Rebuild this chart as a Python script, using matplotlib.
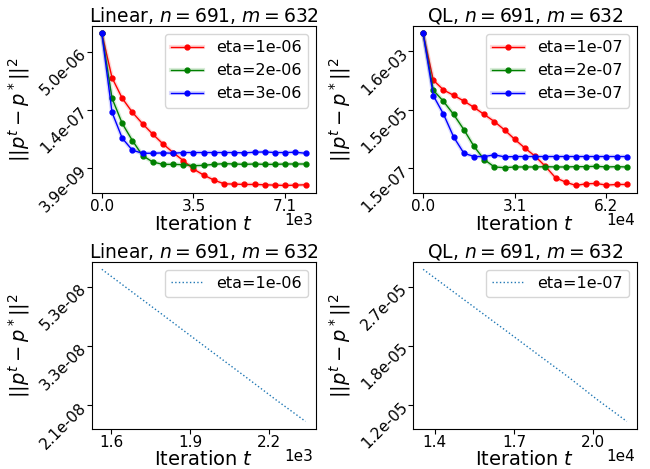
import matplotlib
matplotlib.use("Agg")
import numpy as np
import matplotlib.pyplot as plt
from matplotlib.ticker import ScalarFormatter, FormatStrFormatter, NullLocator

# --- data ---
title_lin = "Linear, $n=691$, $m=632$"
title_ql = "QL, $n=691$, $m=632$"

lin_iters = [0, 394, 788, 1182, 1576, 1970, 2364, 2758, 3152, 3546, 3940,
             4334, 4728, 5122, 5516, 5910, 6304, 6698, 7092, 7486, 7880]
lin_etas = ["eta=1e-06", "eta=2e-06", "eta=3e-06"]
lin_err = [
    [1.52e-5, 1.01e-6, 2.87e-7, 1.21e-7, 6.01e-8, 3.18e-8, 1.75e-8, 1.03e-8,
     6.27e-9, 3.75e-9, 2.59e-9, 1.91e-9, 1.52e-9, 1.49e-9, 1.46e-9, 1.46e-9,
     1.43e-9, 1.40e-9, 1.37e-9, 1.40e-9, 1.43e-9],
    [1.52e-5, 2.87e-7, 6.14e-8, 2.15e-8, 8.53e-9, 5.78e-9, 5.00e-9, 5.00e-9,
     4.90e-9, 4.60e-9, 4.70e-9, 5.00e-9, 5.21e-9, 5.11e-9, 5.00e-9, 5.11e-9,
     5.00e-9, 5.00e-9, 5.11e-9, 5.11e-9, 5.11e-9],
    [1.52e-5, 1.21e-7, 2.49e-8, 1.19e-8, 9.86e-9, 9.86e-9, 1.01e-8, 9.86e-9,
     1.03e-8, 1.03e-8, 1.03e-8, 1.03e-8, 1.03e-8, 1.03e-8, 1.01e-8, 1.05e-8,
     1.07e-8, 1.03e-8, 1.03e-8, 1.05e-8, 9.86e-9],
]
lin_yticks = [3.9e-9, 1.4e-7, 5.0e-6]
lin_xticks = [0, 3546, 7092]

ql_iters = [0, 3450, 6900, 10350, 13800, 17250, 20700, 24150, 27600, 31050,
            34500, 37950, 41400, 44850, 48300, 51750, 55200, 58650, 62100,
            65550, 69000]
ql_etas = ["eta=1e-07", "eta=2e-07", "eta=3e-07"]
ql_err = [
    [6.53e-3, 1.61e-4, 7.41e-5, 4.84e-5, 3.08e-5, 1.86e-5, 1.06e-5, 6.05e-6,
     3.11e-6, 1.48e-6, 7.38e-7, 3.89e-7, 1.75e-7, 7.06e-8, 5.00e-8, 3.83e-8,
     4.38e-8, 4.50e-8, 3.94e-8, 4.15e-8, 4.15e-8],
    [6.53e-3, 7.23e-5, 3.00e-5, 1.06e-5, 3.20e-6, 8.43e-7, 2.98e-7, 1.66e-7,
     1.57e-7, 1.66e-7, 1.66e-7, 1.66e-7, 1.70e-7, 1.66e-7, 1.66e-7, 1.70e-7,
     1.70e-7, 1.75e-7, 1.66e-7, 1.70e-7, 1.66e-7],
    [6.53e-3, 4.72e-5, 1.09e-5, 1.78e-6, 4.94e-7, 3.79e-7, 3.79e-7, 4.34e-7,
     3.69e-7, 3.79e-7, 3.79e-7, 3.79e-7, 3.79e-7, 3.79e-7, 3.79e-7, 3.79e-7,
     3.79e-7, 3.79e-7, 3.79e-7, 3.79e-7, 3.79e-7],
]
ql_yticks = [1.48e-7, 1.52e-5, 1.56e-3]
ql_xticks = [0, 31050, 62100]

# zoomed-in runs (bottom row)
lin_zoom_iters = [1565, 1675, 1785, 1895, 2005, 2115, 2225, 2337]
lin_zoom_err = [6.08e-8, 5.13e-8, 4.33e-8, 3.65e-8, 3.08e-8, 2.60e-8, 2.19e-8, 1.85e-8]
lin_zoom_yticks = [2.1e-8, 3.34e-8, 5.3e-8]
lin_zoom_xticks = [1600, 1900, 2200]

ql_zoom_iters = [13557, 14660, 15760, 16860, 17960, 19060, 20160, 21266]
ql_zoom_err = [3.04e-5, 2.62e-5, 2.26e-5, 1.95e-5, 1.68e-5, 1.45e-5, 1.24e-5, 1.07e-5]
ql_zoom_yticks = [1.2e-5, 1.8e-5, 2.7e-5]
ql_zoom_xticks = [14000, 17000, 20000]

colors = ["red", "green", "blue"]


class OneDecimalSci(ScalarFormatter):
    def _set_format(self):
        self.format = "%1.1f"


def style_axes(ax, title, xticks, yticks):
    ax.set_yscale("log")
    ax.set_yticks(yticks)
    ax.yaxis.set_major_formatter(FormatStrFormatter("%.1e"))
    ax.yaxis.set_minor_locator(NullLocator())
    ax.set_xticks(xticks)
    fmt = OneDecimalSci(useOffset=False)
    fmt.set_powerlimits((0, 0))
    ax.xaxis.set_major_formatter(fmt)
    ax.xaxis.offsetText.set_visible(False)
    exp = int(np.floor(np.log10(max(xticks))))
    ax.text(0.99, -0.12, f"1e{exp}", transform=ax.transAxes,
            ha="right", va="top", fontsize=11)
    ax.tick_params(axis="x", labelsize=11, pad=1)
    ax.tick_params(axis="y", labelsize=11, pad=2)
    plt.setp(ax.get_yticklabels(), rotation=45, ha="right", va="center",
             rotation_mode="anchor")
    ax.set_title(title, fontsize=13.5, pad=3)
    ax.set_xlabel("Iteration $t$", fontsize=14)
    ax.xaxis.set_label_coords(0.5, -0.128)
    ax.set_ylabel("$||p^t - p^*||^2$", fontsize=14)
    ax.yaxis.set_label_coords(-0.268, 0.5)


def plot_runs(ax, iters, errs, labels):
    handles = []
    for err, c in zip(errs, colors):
        under, = ax.plot(iters, err, color=c, lw=3, alpha=0.15)
        main, = ax.plot(iters, err, color=c, lw=1, marker="o", markersize=3.5)
        handles.append((under, main))
    ax.legend(handles, labels, loc="upper right", fontsize=11.5)


fig, axes = plt.subplots(2, 2, figsize=(6.5, 4.69), dpi=100)
fig.subplots_adjust(left=0.141, right=0.98, top=0.945, bottom=0.0853,
                    wspace=0.434, hspace=0.41)

ax = axes[0, 0]
plot_runs(ax, lin_iters, lin_err, lin_etas)
style_axes(ax, title_lin, lin_xticks, lin_yticks)

ax = axes[0, 1]
plot_runs(ax, ql_iters, ql_err, ql_etas)
style_axes(ax, title_ql, ql_xticks, ql_yticks)

ax = axes[1, 0]
ax.plot(lin_zoom_iters, lin_zoom_err, color="C0", ls=":", lw=1, label="eta=1e-06")
ax.legend(loc="upper right", fontsize=11.5)
style_axes(ax, title_lin, lin_zoom_xticks, lin_zoom_yticks)

ax = axes[1, 1]
ax.plot(ql_zoom_iters, ql_zoom_err, color="C0", ls=":", lw=1, label="eta=1e-07")
ax.legend(loc="upper right", fontsize=11.5)
style_axes(ax, title_ql, ql_zoom_xticks, ql_zoom_yticks)

fig.savefig("out.png", dpi=100)
